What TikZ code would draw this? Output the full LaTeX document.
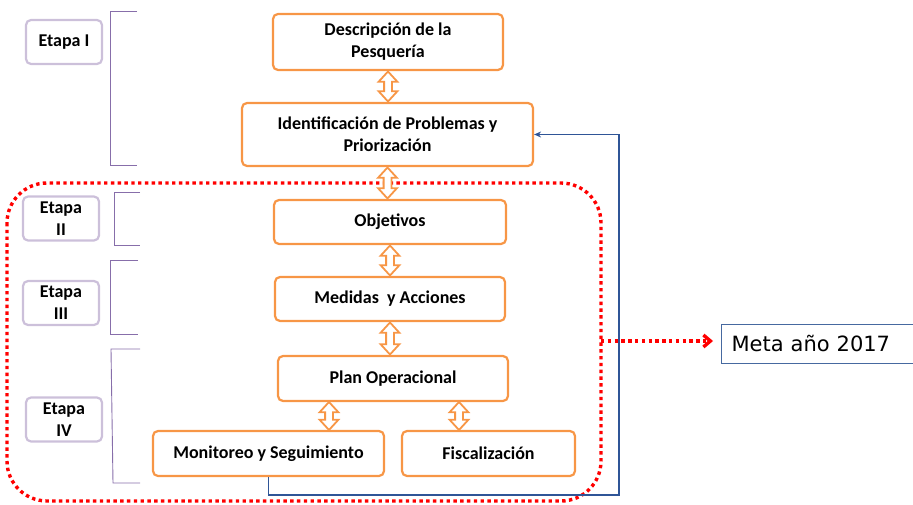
\documentclass[tikz,border=0pt]{standalone}
\usepackage{fontspec}
\setmainfont{Carlito}
\newfontfamily\metafont{DejaVu Sans}
\usetikzlibrary{arrows.meta,shapes.arrows}
\definecolor{figorange}{RGB}{247,150,70}
\definecolor{figlilac}{RGB}{204,192,218}
\definecolor{figpurple}{RGB}{135,110,170}
\definecolor{figred}{RGB}{255,0,0}
\definecolor{figblue}{RGB}{47,85,151}
\definecolor{figmeta}{RGB}{70,105,160}
\tikzset{
  obox/.style ={draw=figorange, line width=2.2pt, rounded corners=5pt, align=center,
                font=\fontsize{18}{22}\selectfont\bfseries, inner sep=1pt},
  ebox/.style ={draw=figlilac, line width=2.2pt, rounded corners=5pt, align=center,
                font=\fontsize{18}{22}\selectfont\bfseries, inner sep=1pt,
                minimum width=76pt, minimum height=44pt},
  brk/.style  ={draw=figpurple, line width=0.9pt},
  dblarr/.style ={double arrow, shape border rotate=90, draw=figorange, fill=white,
                line width=1.8pt, inner sep=3pt, double arrow head extend=5.5pt,
                double arrow tip angle=85},
  reddot/.style ={draw=figred, line width=3.4pt, dash pattern=on 3.4pt off 3.4pt},
  fb/.style   ={draw=figblue, line width=1.3pt, -{Stealth[length=7pt,width=6pt]}},
  metabox/.style ={draw=figmeta, line width=1pt, font=\metafont\fontsize{21}{24}\selectfont,
                inner xsep=10pt, text width=210pt, align=left, minimum height=39pt},
}
\begin{document}
\begin{tikzpicture}[x=1pt,y=-1pt]
  \useasboundingbox (0,0) rectangle (913,505);
  \clip (0,0) rectangle (913,505);
  \node[ebox] (et1) at (64,42) {Etapa I};
  \node[ebox] (et2) at (61,218.5) {Etapa\\II};
  \node[ebox] (et3) at (61,303) {Etapa\\III};
  \node[ebox] (et4) at (64,419.5) {Etapa\\IV};
  \draw[brk] (137,11) -- (110,11) -- (110,165) -- (137,165);
  \draw[brk] (140,192) -- (114,192) -- (114,245) -- (140,245);
  \draw[brk] (138,260) -- (110,260) -- (110,334) -- (138,334);
  \draw[brk] (140,349) -- (111,349) -- (113,483) -- (140,483);
  \node[obox, minimum width=230pt, minimum height=56pt] (desc) at (388,42) {Descripción de la\\Pesquería};
  \node[obox, minimum width=291pt, minimum height=63pt] (ident) at (387.5,134.5) {Identificación de Problemas y\\Priorización};
  \node[obox, minimum width=232pt, minimum height=44pt] (obj) at (390,222) {Objetivos};
  \node[obox, minimum width=230pt, minimum height=44pt] (med) at (390,299) {Medidas~ y Acciones};
  \node[obox, minimum width=230pt, minimum height=45pt] (plan) at (393,378.5) {Plan Operacional};
  \node[obox, minimum width=231pt, minimum height=45pt] (mon) at (268.5,453.5) {Monitoreo y Seguimiento};
  \node[obox, minimum width=173pt, minimum height=45pt] (fisc) at (488.5,453.5) {Fiscalización};
  \draw[reddot, rounded corners=40pt] (7,183) rectangle (601,501);
  \path (desc.south) -- (desc.south |- ident.north) node[dblarr, midway, minimum height=30pt] (a1) {};
  \path (ident.south) -- (ident.south |- obj.north) node[dblarr, midway, minimum height=31pt] (a2) {};
  \path (med.north) -- (med.north |- obj.south) node[dblarr, midway, minimum height=30pt] (a3) {};
  \path (med.south) -- (med.south |- plan.north) node[dblarr, midway, minimum height=32pt] (a4) {};
  \path ([xshift=-64pt]plan.south) -- ([xshift=-64pt]plan.south |- mon.north) node[dblarr, midway, minimum height=28pt] (a5) {};
  \path ([xshift=66pt]plan.south) -- ([xshift=66pt]plan.south |- fisc.north) node[dblarr, midway, minimum height=28pt] (a6) {};
  \node[metabox, anchor=west] (meta) at (721,343.5) {Meta año 2017};
  \coordinate (dotout) at (601,341);
  \draw[reddot, -{Straight Barb[length=7pt,width=12pt]}, shorten >=8pt] (dotout) -- (dotout -| meta.west);
  \coordinate (fbcorner) at (619,495);
  \draw[fb] (mon.south) |- (fbcorner) |- (ident.east);
\end{tikzpicture}
\end{document}
